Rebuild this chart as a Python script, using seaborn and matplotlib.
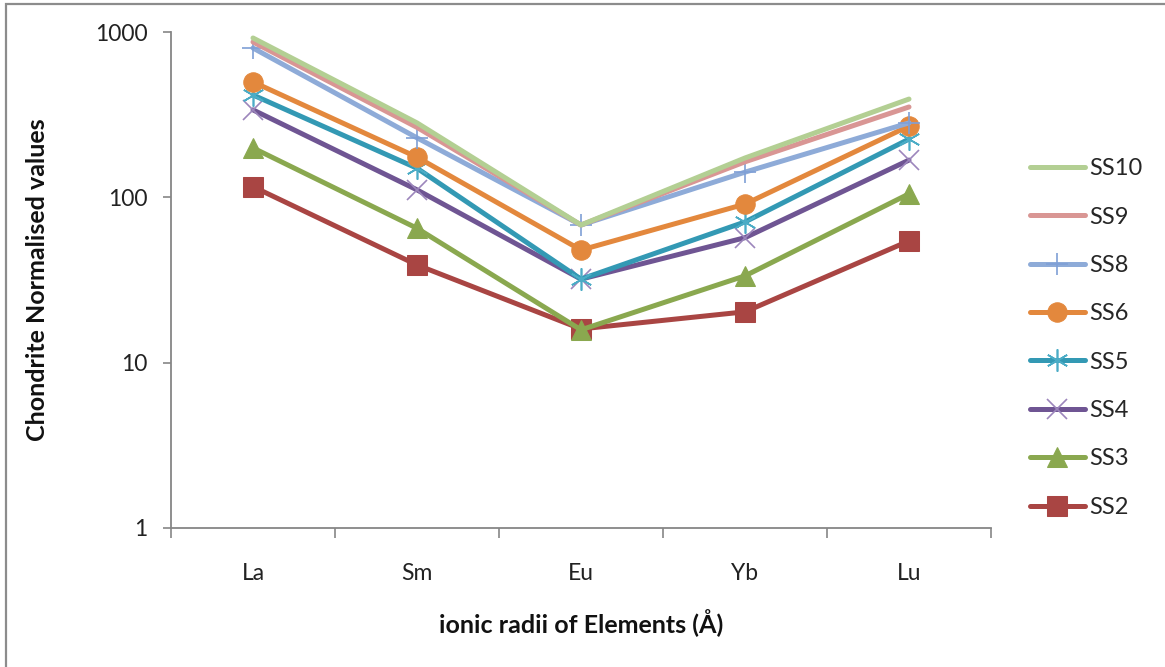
import matplotlib
matplotlib.use("Agg")
import matplotlib.pyplot as plt
from matplotlib.patches import Rectangle
from matplotlib.ticker import FixedLocator, FixedFormatter, NullLocator
import pandas as pd
import seaborn as sns

# Chondrite-normalised REE values per sample
elements = ["La", "Sm", "Eu", "Yb", "Lu"]
ss2 = [116, 39, 16, 20.3, 54.5]
ss3 = [199, 65, 15.8, 33.5, 105]
ss4 = [338, 111, 32, 57, 168]
ss5 = [416, 150, 32, 71, 225]
ss6 = [499, 175, 48, 91, 270]
ss8 = [800, 229, 68, 142, 282]
ss9 = [870, 265, 68, 164, 352]
ss10 = [920, 282, 68, 173, 393]

series_names = ["SS2", "SS3", "SS4", "SS5", "SS6", "SS8", "SS9", "SS10"]
series_values = [ss2, ss3, ss4, ss5, ss6, ss8, ss9, ss10]
y_ticks = [1, 10, 100, 1000]
y_tick_labels = ["1", "10", "100", "1000"]

df = pd.DataFrame(
    [(name, el, v) for name, vals in zip(series_names, series_values)
     for el, v in zip(elements, vals)],
    columns=["sample", "element", "value"],
)

sns.set_theme(style="white")
plt.rcParams["font.family"] = ["Lato", "DejaVu Sans"]

line_colors = {
    "SS2": "#A94543", "SS3": "#8AA84F", "SS4": "#6F5593", "SS5": "#3399B4",
    "SS6": "#E3883D", "SS8": "#8EABD8", "SS9": "#D99694", "SS10": "#B3CF93",
}
marker_styles = {
    "SS2": dict(marker="s", markersize=14, markerfacecolor="#A94543", markeredgecolor="#A94543"),
    "SS3": dict(marker="^", markersize=14, markerfacecolor="#8AA84F", markeredgecolor="#8AA84F"),
    "SS4": dict(marker="x", markersize=14, markeredgecolor="#9C86BC", markeredgewidth=1.2),
    "SS5": dict(marker=(6, 2, 0), markersize=16, markeredgecolor="#4BACC6", markeredgewidth=1.2),
    "SS6": dict(marker="o", markersize=14, markerfacecolor="#E3883D", markeredgecolor="#E3883D"),
    "SS8": dict(marker="+", markersize=16, markeredgecolor="#7F9FD6", markeredgewidth=1.2),
    "SS9": dict(marker=None),
    "SS10": dict(marker=None),
}

fig = plt.figure(figsize=(11.65, 6.67), dpi=100)
ax = fig.add_axes([171 / 1165, 1 - 528 / 667, 820 / 1165, 496 / 667])

handles = {}
for z, name in enumerate(series_names):
    sub = df[df["sample"] == name]
    sns.lineplot(data=sub, x="element", y="value", ax=ax, color=line_colors[name],
                 linewidth=3.6, sort=False, zorder=3 + z, legend=False,
                 **marker_styles[name])
    handles[name] = ax.lines[-1]

ax.set_yscale("log")
ax.set_ylim(1, 1000)
ax.set_xlim(-0.5, 4.5)
ax.yaxis.set_major_locator(FixedLocator(y_ticks))
ax.yaxis.set_major_formatter(FixedFormatter(y_tick_labels))
ax.yaxis.set_minor_locator(NullLocator())

ax.set_xticks(range(len(elements)))
ax.set_xticklabels(elements)
ax.set_xticks([i - 0.5 for i in range(len(elements) + 1)], minor=True)

axis_gray = "#868686"
for side in ("top", "right"):
    ax.spines[side].set_visible(False)
for side in ("left", "bottom"):
    ax.spines[side].set_color(axis_gray)
    ax.spines[side].set_linewidth(1.3)

ax.tick_params(axis="y", which="major", direction="out", length=6, width=1.2,
               color=axis_gray, pad=11, labelsize=16.5, labelcolor="#222222", left=True)
ax.tick_params(axis="x", which="major", length=0, pad=25, labelsize=16.5,
               labelcolor="#222222")
ax.tick_params(axis="x", which="minor", direction="out", length=7, width=1.2,
               color=axis_gray, bottom=True)
ax.grid(False)

ax.set_xlabel("ionic radii of Elements (Å)", fontsize=18, fontweight="bold",
              labelpad=18, color="#111111")
ax.set_ylabel("Chondrite Normalised values", fontsize=18, fontweight="bold",
              labelpad=33, color="#111111")

legend_order = ["SS10", "SS9", "SS8", "SS6", "SS5", "SS4", "SS3", "SS2"]
fig.legend([handles[n] for n in legend_order], legend_order,
           loc="center left", bbox_to_anchor=(1018 / 1165, 1 - 338 / 667),
           frameon=False, fontsize=17, handlelength=2.33, handletextpad=0.2,
           labelspacing=1.16, borderpad=0, numpoints=1)

fig.add_artist(Rectangle((5.5 / 1165, -0.5), 2.0, 0.5 + (1 - 3.5 / 667),
                         transform=fig.transFigure, fill=False,
                         edgecolor="#8C8C8C", linewidth=1.6))

fig.savefig("out.png", dpi=100, facecolor="white")
